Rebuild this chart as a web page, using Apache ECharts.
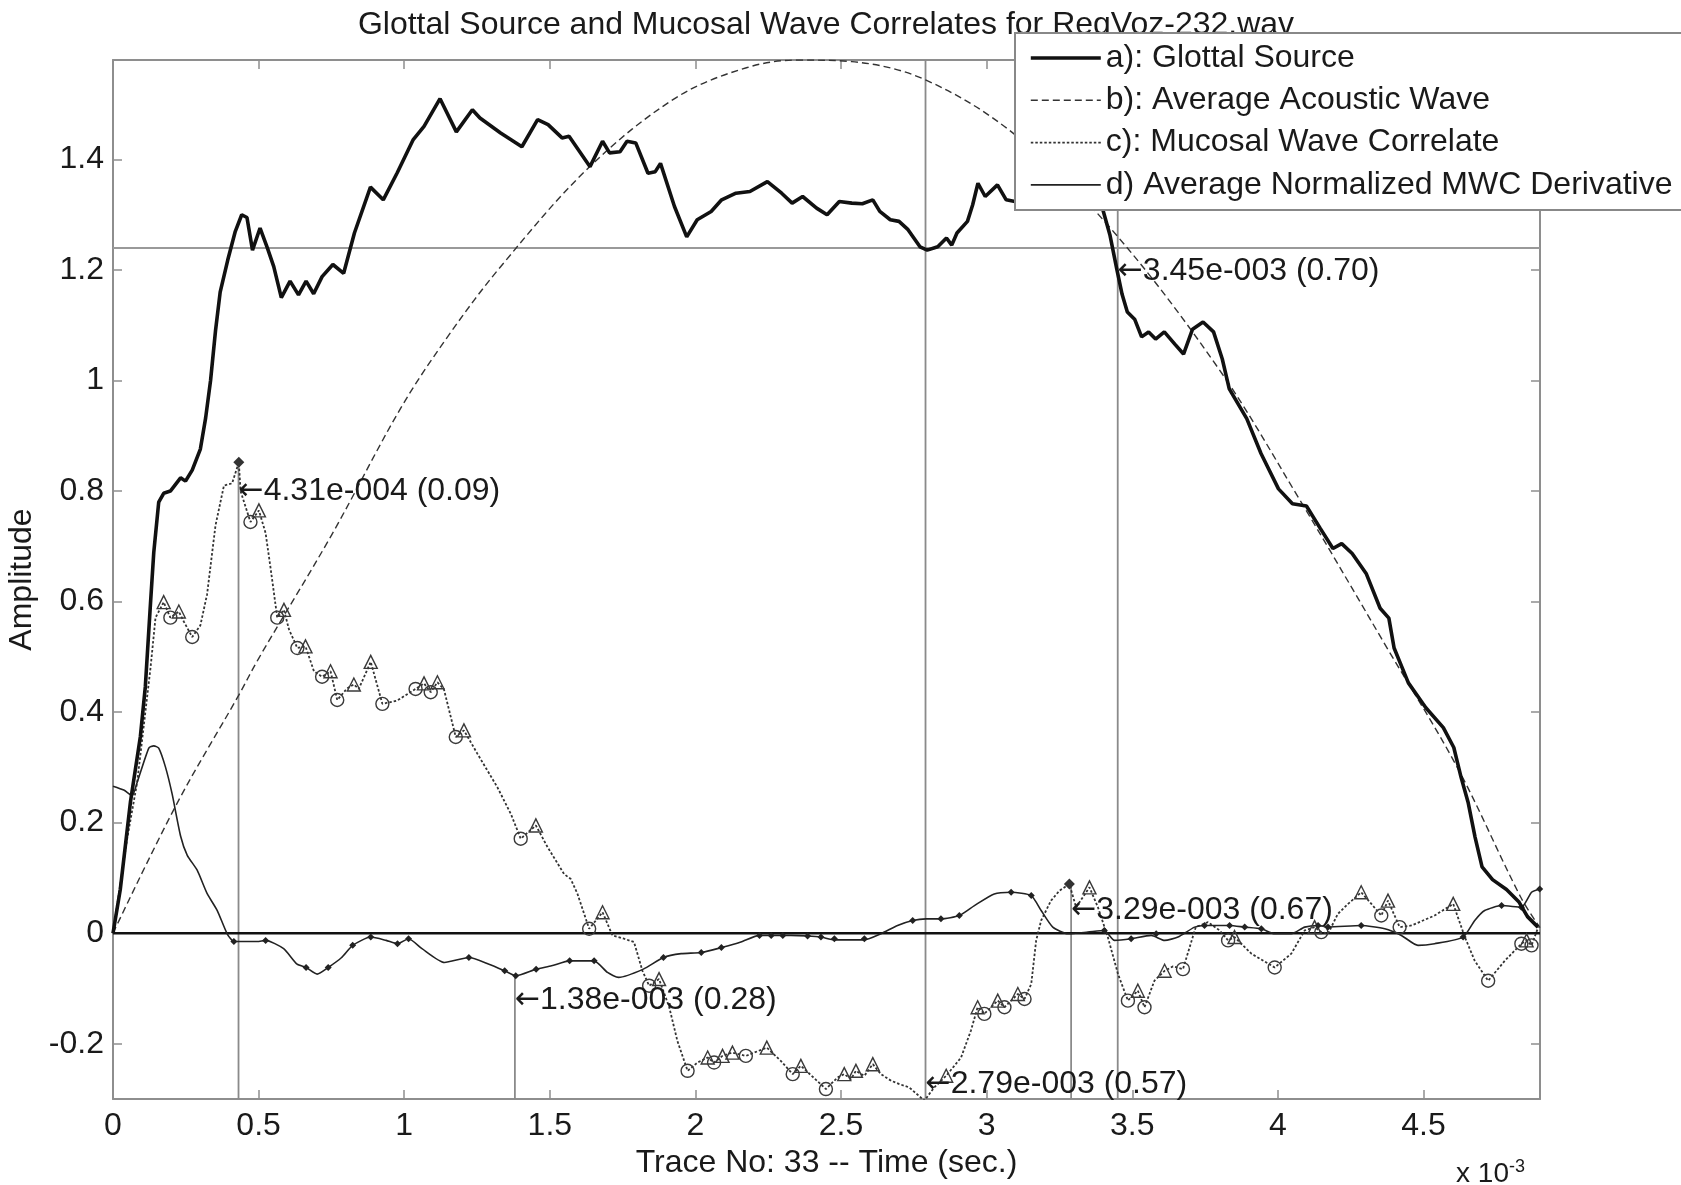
<!DOCTYPE html>
<html>
<head>
<meta charset="utf-8">
<script src="https://cdn.jsdelivr.net/npm/echarts@6/dist/echarts.min.js"></script>
<style>
html,body{margin:0;padding:0;background:#fff;}
#c{width:1681px;height:1185px;}
</style>
</head>
<body>
<div id="c"></div>
<script>
// ---------- data ----------
const xTicks = [0, 0.5, 1, 1.5, 2, 2.5, 3, 3.5, 4, 4.5];
const yTicks = [-0.2, 0, 0.2, 0.4, 0.6, 0.8, 1, 1.2, 1.4];
const seriesNames = ['a): Glottal Source', 'b): Average Acoustic Wave', 'c): Mucosal Wave Correlate', 'd) Average Normalized MWC Derivative'];

const glottalSource = [
 [0,0],[0.025,0.079],[0.06,0.238],[0.094,0.356],[0.111,0.446],[0.129,0.599],[0.14,0.689],[0.157,0.78],
 [0.174,0.796],[0.197,0.80],[0.232,0.824],[0.249,0.818],[0.272,0.838],[0.30,0.876],[0.318,0.932],[0.335,1.0],
 [0.352,1.09],[0.368,1.16],[0.394,1.218],[0.42,1.27],[0.442,1.30],[0.46,1.295],[0.479,1.236],[0.505,1.276],
 [0.53,1.24],[0.552,1.206],[0.578,1.15],[0.608,1.18],[0.637,1.155],[0.663,1.18],[0.689,1.157],[0.718,1.188],
 [0.755,1.21],[0.792,1.194],[0.829,1.267],[0.884,1.35],[0.928,1.327],[0.976,1.376],[1.031,1.436],[1.068,1.46],
 [1.123,1.51],[1.179,1.45],[1.234,1.49],[1.26,1.475],[1.331,1.448],[1.404,1.423],[1.458,1.472],[1.494,1.463],
 [1.542,1.439],[1.566,1.442],[1.638,1.387],[1.681,1.433],[1.705,1.412],[1.741,1.414],[1.765,1.433],[1.795,1.43],
 [1.837,1.375],[1.862,1.378],[1.88,1.393],[1.928,1.315],[1.97,1.26],[2.006,1.291],[2.054,1.306],[2.09,1.327],
 [2.139,1.339],[2.187,1.342],[2.247,1.36],[2.296,1.339],[2.332,1.321],[2.368,1.333],[2.416,1.312],[2.452,1.30],
 [2.494,1.324],[2.537,1.321],[2.573,1.32],[2.609,1.327],[2.633,1.306],[2.669,1.291],[2.699,1.288],[2.73,1.273],
 [2.771,1.242],[2.796,1.236],[2.832,1.242],[2.862,1.258],[2.88,1.245],[2.898,1.267],[2.934,1.288],[2.952,1.318],
 [2.97,1.357],[2.995,1.333],[3.037,1.354],[3.067,1.327],[3.097,1.324],[3.15,1.34],[3.22,1.33],[3.3,1.345],
 [3.36,1.33],[3.399,1.309],[3.423,1.264],[3.447,1.201],[3.465,1.156],[3.483,1.124],[3.508,1.111],[3.532,1.079],
 [3.556,1.088],[3.58,1.075],[3.61,1.088],[3.646,1.066],[3.676,1.048],[3.707,1.093],[3.743,1.106],[3.779,1.088],
 [3.809,1.039],[3.833,0.985],[3.893,0.931],[3.942,0.868],[4.002,0.804],[4.05,0.777],[4.098,0.773],[4.146,0.732],
 [4.189,0.696],[4.219,0.705],[4.255,0.687],[4.303,0.651],[4.351,0.588],[4.381,0.57],[4.399,0.516],[4.448,0.453],
 [4.508,0.408],[4.568,0.372],[4.604,0.336],[4.629,0.282],[4.653,0.237],[4.677,0.174],[4.701,0.12],[4.737,0.097],
 [4.785,0.079],[4.827,0.057],[4.857,0.03],[4.893,0.011]
];

const acousticWave = [
 [0,0],[0.22,0.235],[0.431,0.43],[0.5,0.497],[0.75,0.72],[0.988,0.95],[1.15,1.08],[1.331,1.206],
 [1.633,1.385],[1.934,1.512],[2.175,1.566],[2.355,1.58],[2.537,1.577],[2.79,1.544],[3.097,1.445],
 [3.423,1.277],[3.797,1.021],[4.073,0.786],[4.375,0.516],[4.616,0.30],[4.833,0.066],[4.9,0.01]
];

const mucosalWave = [
 [0,0],[0.048,0.169],[0.083,0.273],[0.129,0.481],[0.146,0.571],[0.174,0.599],[0.197,0.571],[0.226,0.582],
 [0.243,0.564],[0.272,0.536],[0.30,0.557],[0.323,0.613],[0.352,0.738],[0.381,0.81],[0.409,0.814],[0.432,0.852],
 [0.438,0.80],[0.472,0.744],[0.501,0.765],[0.524,0.724],[0.541,0.661],[0.564,0.571],[0.587,0.585],[0.604,0.55],
 [0.633,0.516],[0.661,0.519],[0.69,0.474],[0.718,0.464],[0.747,0.474],[0.77,0.422],[0.804,0.443],[0.827,0.45],
 [0.844,0.442],[0.885,0.491],[0.925,0.415],[0.976,0.421],[1.039,0.442],[1.068,0.452],[1.091,0.436],[1.114,0.454],
 [1.136,0.442],[1.177,0.355],[1.205,0.367],[1.251,0.325],[1.32,0.264],[1.366,0.216],[1.40,0.171],[1.452,0.195],
 [1.492,0.156],[1.549,0.107],[1.572,0.098],[1.595,0.071],[1.635,0.008],[1.681,0.038],[1.715,-0.004],[1.755,-0.01],
 [1.789,-0.016],[1.818,-0.068],[1.841,-0.095],[1.875,-0.083],[1.91,-0.134],[1.938,-0.195],[1.973,-0.249],[2.007,-0.234],
 [2.042,-0.225],[2.064,-0.234],[2.093,-0.222],[2.127,-0.216],[2.173,-0.222],[2.245,-0.207],[2.293,-0.231],[2.334,-0.255],
 [2.362,-0.24],[2.448,-0.282],[2.488,-0.261],[2.511,-0.255],[2.534,-0.264],[2.551,-0.249],[2.58,-0.258],[2.609,-0.237],
 [2.637,-0.255],[2.672,-0.267],[2.7,-0.273],[2.734,-0.279],[2.786,-0.303],[2.82,-0.279],[2.861,-0.258],[2.912,-0.225],
 [2.946,-0.176],[2.969,-0.134],[2.992,-0.146],[3.038,-0.122],[3.061,-0.134],[3.107,-0.11],[3.13,-0.119],[3.153,-0.092],
 [3.17,-0.013],[3.187,0.023],[3.221,0.059],[3.25,0.077],[3.284,0.089],[3.307,0.047],[3.33,0.065],[3.353,0.083],
 [3.382,0.047],[3.416,-0.007],[3.451,-0.074],[3.485,-0.122],[3.519,-0.104],[3.542,-0.134],[3.576,-0.086],[3.611,-0.068],
 [3.64,-0.06],[3.674,-0.065],[3.718,0.011],[3.76,0.02],[3.80,0.005],[3.829,-0.013],[3.851,-0.007],[3.909,-0.037],
 [3.989,-0.062],[4.046,-0.037],[4.092,0.005],[4.126,0.011],[4.149,0.002],[4.172,-0.001],[4.206,0.035],[4.241,0.053],
 [4.286,0.074],[4.321,0.053],[4.355,0.032],[4.378,0.059],[4.418,0.011],[4.459,0.014],[4.538,0.032],[4.602,0.053],
 [4.642,-0.007],[4.676,-0.05],[4.722,-0.086],[4.779,-0.05],[4.836,-0.019],[4.854,-0.013],[4.871,-0.022],[4.894,0.011]
];
const mucosalTroughs = [
 [0.197,0.571],[0.272,0.536],[0.472,0.744],[0.564,0.571],[0.633,0.516],[0.718,0.464],[0.77,0.422],[0.925,0.415],
 [1.039,0.442],[1.091,0.436],[1.177,0.355],[1.40,0.171],[1.635,0.008],[1.841,-0.095],[1.973,-0.249],[2.064,-0.234],
 [2.173,-0.222],[2.334,-0.255],[2.448,-0.282],[2.786,-0.303],[2.992,-0.146],[3.061,-0.134],[3.13,-0.119],[3.485,-0.122],
 [3.542,-0.134],[3.674,-0.065],[3.829,-0.013],[3.989,-0.062],[4.149,0.002],[4.355,0.032],[4.418,0.011],[4.722,-0.086],
 [4.836,-0.019],[4.871,-0.022]
];
const mucosalPeaks = [
 [0.174,0.599],[0.226,0.582],[0.501,0.765],[0.587,0.585],[0.661,0.519],[0.747,0.474],[0.827,0.45],[0.885,0.491],
 [1.068,0.452],[1.114,0.454],[1.205,0.367],[1.452,0.195],[1.681,0.038],[1.875,-0.083],[2.042,-0.225],[2.093,-0.222],
 [2.127,-0.216],[2.245,-0.207],[2.362,-0.24],[2.511,-0.255],[2.551,-0.249],[2.609,-0.237],[2.861,-0.258],[2.969,-0.134],
 [3.038,-0.122],[3.107,-0.11],[3.353,0.083],[3.519,-0.104],[3.611,-0.068],[3.851,-0.007],[4.126,0.011],[4.286,0.074],
 [4.378,0.059],[4.602,0.053],[4.854,-0.013]
];
const mucosalMaxima = [[0.432,0.852],[3.284,0.089]];

const mwcDerivative = [
 [0,0.266],[0.037,0.259],[0.066,0.249],[0.083,0.273],[0.123,0.335],[0.14,0.339],[0.157,0.335],[0.18,0.301],
 [0.203,0.252],[0.232,0.176],[0.255,0.141],[0.289,0.114],[0.323,0.072],[0.358,0.041],[0.392,-0.001],[0.415,-0.015],
 [0.449,-0.015],[0.495,-0.015],[0.524,-0.013],[0.586,-0.028],[0.632,-0.056],[0.663,-0.062],[0.701,-0.074],[0.739,-0.062],
 [0.785,-0.044],[0.823,-0.022],[0.885,-0.007],[0.938,-0.013],[0.977,-0.019],[1.015,-0.01],[1.061,-0.028],[1.138,-0.053],
 [1.222,-0.044],[1.291,-0.056],[1.345,-0.068],[1.383,-0.077],[1.453,-0.065],[1.506,-0.059],[1.568,-0.05],[1.652,-0.05],
 [1.698,-0.071],[1.736,-0.08],[1.821,-0.065],[1.89,-0.044],[1.951,-0.037],[2.02,-0.035],[2.089,-0.026],[2.156,-0.016],
 [2.22,-0.004],[2.328,-0.004],[2.385,-0.005],[2.431,-0.007],[2.477,-0.012],[2.58,-0.012],[2.637,-0.001],[2.694,0.014],
 [2.746,0.023],[2.792,0.026],[2.843,0.026],[2.906,0.032],[2.958,0.05],[3.026,0.071],[3.084,0.074],[3.153,0.068],
 [3.187,0.041],[3.227,0.011],[3.279,-0.001],[3.347,0.002],[3.404,0.005],[3.439,-0.013],[3.496,-0.01],[3.565,-0.004],
 [3.611,-0.013],[3.657,-0.007],[3.714,0.011],[3.748,0.014],[3.834,0.014],[3.886,0.011],[3.943,0.008],[3.989,-0.001],
 [4.046,-0.001],[4.092,0.011],[4.138,0.014],[4.172,0.011],[4.286,0.014],[4.367,0.008],[4.424,-0.004],[4.481,-0.022],
 [4.538,-0.019],[4.636,-0.007],[4.676,0.023],[4.71,0.041],[4.768,0.05],[4.836,0.047],[4.871,0.074],[4.899,0.08]
];
const derivativeMarks = [
 [0.415,-0.015],[0.524,-0.013],[0.663,-0.062],[0.739,-0.062],[0.823,-0.022],[0.885,-0.007],[0.977,-0.019],[1.015,-0.01],
 [1.222,-0.044],[1.345,-0.068],[1.383,-0.077],[1.453,-0.065],[1.568,-0.05],[1.652,-0.05],[1.89,-0.044],[2.02,-0.035],
 [2.089,-0.026],[2.22,-0.004],[2.26,-0.004],[2.30,-0.004],[2.385,-0.005],[2.431,-0.007],[2.477,-0.01],[2.58,-0.01],
 [2.746,0.023],[2.843,0.026],[2.906,0.032],[3.084,0.074],[3.153,0.068],[3.404,0.005],[3.496,-0.01],[3.582,-0.001],
 [3.748,0.014],[3.834,0.014],[3.886,0.011],[3.943,0.008],[4.138,0.014],[4.172,0.011],[4.286,0.014],[4.636,-0.007],
 [4.768,0.05],[4.836,0.047],[4.899,0.08]
];

// marker lines: [time, top of the vertical line]
const markerLines = [[0.431,0.852],[1.38,-0.077],[2.79,1.58],[3.29,0.089],[3.45,1.58]];
const thresholdLevel = 1.24;
const annotations = [
 [0.431, 0.80, '4.31e-004 (0.09)'],
 [1.38, -0.122, '1.38e-003 (0.28)'],
 [2.79, -0.273, '2.79e-003 (0.57)'],
 [3.29, 0.041, '3.29e-003 (0.67)'],
 [3.45, 1.197, '3.45e-003 (0.70)']
];
const titleText = 'Glottal Source and Mucosal Wave Correlates for RegVoz-232.wav';
const xName = 'Trace No: 33 -- Time (sec.)';
const yName = 'Amplitude';

// ---------- chart ----------
const FONT = '"Liberation Sans", Arial, sans-serif';
const FS = 32;
const X_MIN = 0, X_MAX = 4.9, Y_MIN = -0.3, Y_MAX = 1.58;
const AXIS_GRAY = '#8e8e8e';
const TXT = '#1a1a1a';
const chart = echarts.init(document.getElementById('c'), null, {renderer: 'canvas', width: 1681, height: 1185});

function guide(points, color, width, z) {
  return {type: 'line', data: points, symbol: 'none', silent: true, animation: false,
          lineStyle: {color: color, width: width}, z: z, legendHoverLink: false};
}

const series = [];
markerLines.forEach(function (m) {
  series.push(guide([[m[0], Y_MIN], [m[0], m[1]]], '#8a8a8a', 1.8, 1));
});
series.push(guide([[X_MIN, thresholdLevel], [X_MAX, thresholdLevel]], '#999', 2, 1));
series.push(guide([[X_MIN, 0], [X_MAX, 0]], '#111', 2.5, 1));

const lineStyles = {
  a: {color: '#111', width: 3.6},
  b: {color: '#333', width: 1.4, type: [7, 4]},
  c: {color: '#333', width: 1.8, type: [2.5, 2]},
  d: {color: '#222', width: 1.6}
};

series.push({name: seriesNames[1], type: 'line', data: acousticWave, smooth: 0.35, symbol: 'none',
  lineStyle: lineStyles.b, z: 2});
series.push({name: seriesNames[2], type: 'line', data: mucosalWave, symbol: 'none',
  lineStyle: lineStyles.c, z: 2});
series.push({name: seriesNames[3], type: 'line', data: mwcDerivative, symbol: 'none', smooth: 0.2,
  lineStyle: lineStyles.d, z: 2});
series.push({name: seriesNames[0], type: 'line', data: glottalSource, symbol: 'none',
  lineStyle: lineStyles.a, z: 3});

series.push({type: 'scatter', data: mucosalTroughs, symbol: 'circle', symbolSize: 13, silent: true,
  itemStyle: {color: 'rgba(255,255,255,0)', borderColor: '#3a3a3a', borderWidth: 1.4, opacity: 1}, z: 2});
series.push({type: 'scatter', data: mucosalPeaks, symbol: 'triangle', symbolSize: 13, silent: true,
  itemStyle: {color: 'rgba(255,255,255,0)', borderColor: '#3a3a3a', borderWidth: 1.4, opacity: 1}, z: 2});
series.push({type: 'scatter', data: mucosalMaxima, symbol: 'diamond', symbolSize: 11, silent: true,
  itemStyle: {color: '#333', opacity: 1}, z: 2});
series.push({type: 'scatter', data: derivativeMarks, symbol: 'diamond', symbolSize: 7, silent: true,
  itemStyle: {color: '#222', opacity: 1}, z: 2});

series.push({type: 'scatter', silent: true, symbolSize: 0, z: 3,
  itemStyle: {opacity: 1},
  data: annotations.map(function (a) { return {value: [a[0], a[1]], name: a[2]}; }),
  label: {show: true, position: 'right', distance: 0, opacity: 1,
          formatter: function (p) { return '{ar|←}' + p.name; },
          fontFamily: FONT, fontSize: FS, color: TXT,
          rich: {ar: {fontFamily: '"DejaVu Sans", sans-serif', fontSize: 30, color: TXT}}}});

const axisCommon = {
  axisLine: {show: true, onZero: false, lineStyle: {color: AXIS_GRAY, width: 2}},
  splitLine: {show: false}
};

chart.setOption({
  animation: false,
  backgroundColor: '#fff',
  textStyle: {fontFamily: FONT},
  grid: {left: 113, right: 141, top: 60, bottom: 86, containLabel: false, outerBoundsMode: 'none'},
  graphic: [
    {type: 'text', x: 826, y: 25, z: 2,
     style: {text: titleText, fontFamily: FONT, fontSize: FS, fill: TXT,
             align: 'center', verticalAlign: 'middle', textAlign: 'center', textVerticalAlign: 'middle'}},
    {type: 'text', x: 1525, y: 1174, z: 2,
     style: {text: 'x 10{s|-3}', fontFamily: FONT, fontSize: 28, fill: TXT,
             align: 'right', verticalAlign: 'middle', textAlign: 'right', textVerticalAlign: 'middle',
             rich: {s: {fontSize: 18, fontFamily: FONT, fill: TXT, verticalAlign: 'top', padding: [0, 0, 14, 0]}}}}
  ],
  legend: {
    z: 20,
    data: [
      {name: seriesNames[0], lineStyle: {width: 3.6, color: '#111'}},
      {name: seriesNames[1], lineStyle: {width: 1.4, color: '#333', type: [7, 4]}},
      {name: seriesNames[2], lineStyle: {width: 1.8, color: '#333', type: [2.5, 2]}},
      {name: seriesNames[3], lineStyle: {width: 1.6, color: '#222'}}
    ],
    orient: 'vertical',
    left: 1015, top: 33,
    padding: [9, 40, 9, 14],
    itemWidth: 70, itemHeight: 14, itemGap: 10.3,
    backgroundColor: '#fff',
    borderColor: '#888', borderWidth: 2,
    selectedMode: false,
    itemStyle: {opacity: 0},
    textStyle: {fontFamily: FONT, fontSize: FS, color: TXT}
  },
  xAxis: [
    Object.assign({}, axisCommon, {
      type: 'value', position: 'bottom', min: X_MIN, max: X_MAX,
      name: xName, nameLocation: 'middle', nameGap: 45,
      nameTextStyle: {fontFamily: FONT, fontSize: FS, color: TXT},
      axisTick: {show: true, inside: true, length: 9, customValues: xTicks, lineStyle: {color: AXIS_GRAY, width: 1.5}},
      axisLabel: {show: true, customValues: xTicks, margin: 11, fontFamily: FONT, fontSize: FS, color: TXT}
    }),
    Object.assign({}, axisCommon, {
      type: 'value', position: 'top', min: X_MIN, max: X_MAX,
      axisTick: {show: true, inside: true, length: 9, customValues: xTicks, lineStyle: {color: AXIS_GRAY, width: 1.5}},
      axisLabel: {show: false}
    })
  ],
  yAxis: [
    Object.assign({}, axisCommon, {
      type: 'value', position: 'left', min: Y_MIN, max: Y_MAX,
      name: yName, nameLocation: 'middle', nameGap: 74,
      nameTextStyle: {fontFamily: FONT, fontSize: FS, color: TXT},
      axisTick: {show: true, inside: true, length: 9, customValues: yTicks, lineStyle: {color: AXIS_GRAY, width: 1.5}},
      axisLabel: {show: true, customValues: yTicks, margin: 9, fontFamily: FONT, fontSize: FS, color: TXT}
    }),
    Object.assign({}, axisCommon, {
      type: 'value', position: 'right', min: Y_MIN, max: Y_MAX,
      axisTick: {show: true, inside: true, length: 9, customValues: yTicks, lineStyle: {color: AXIS_GRAY, width: 1.5}},
      axisLabel: {show: false}
    })
  ],
  series: series
});
</script>
</body>
</html>
